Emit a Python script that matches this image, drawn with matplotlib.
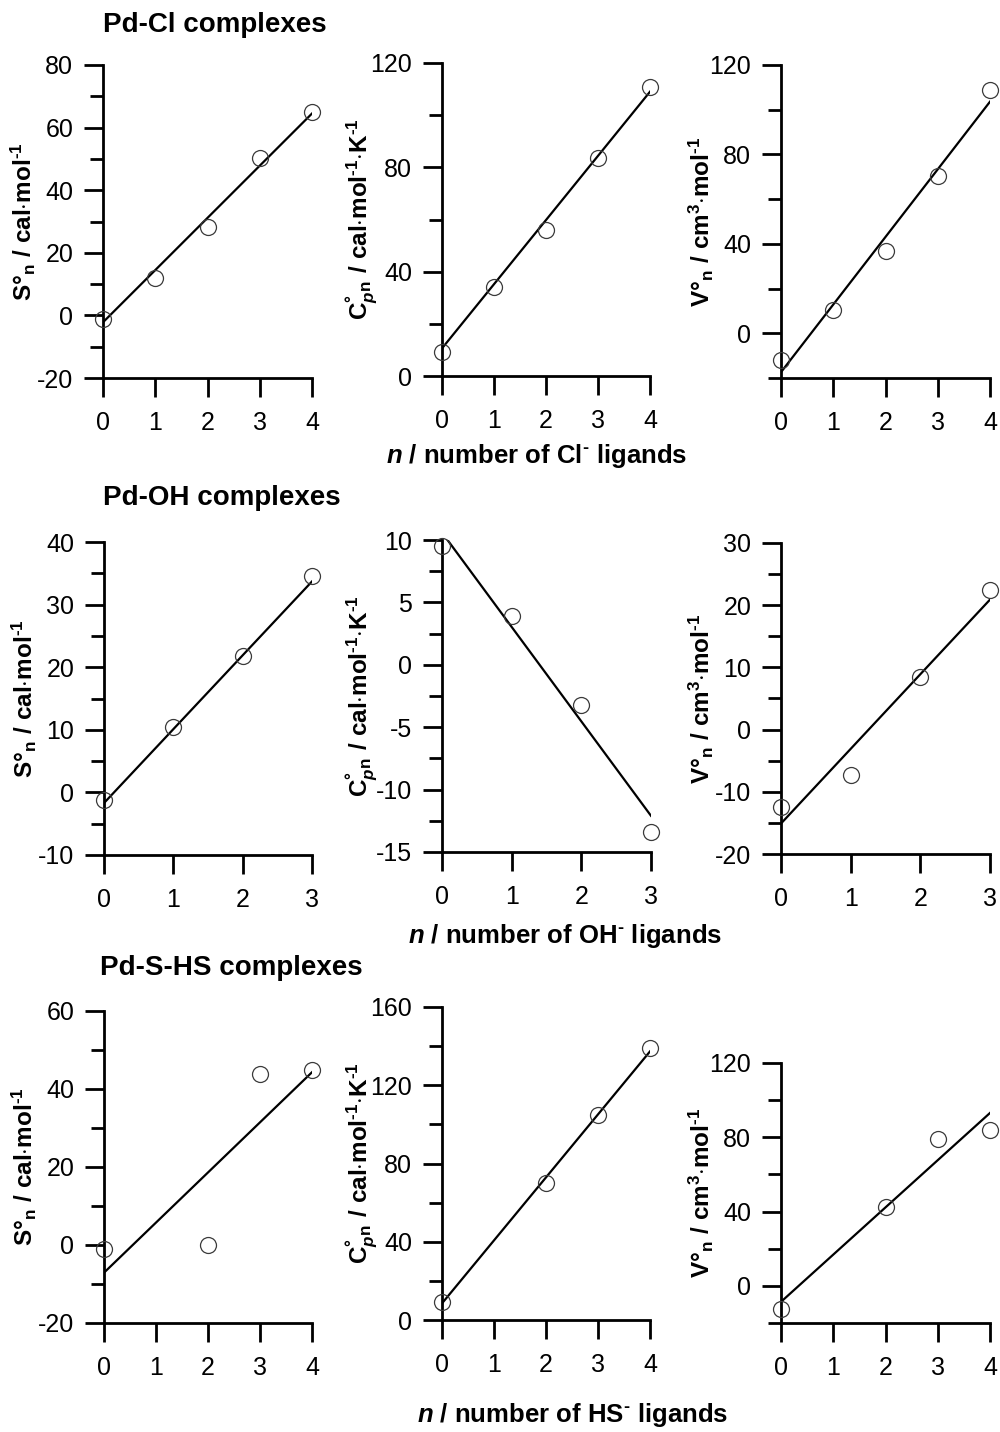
import matplotlib
matplotlib.use('Agg')
import matplotlib.pyplot as plt
from matplotlib.ticker import MultipleLocator, FormatStrFormatter

plt.rcParams['font.family'] = ['Liberation Sans', 'DejaVu Sans']
plt.rcParams['mathtext.fontset'] = 'custom'
plt.rcParams['mathtext.rm'] = 'Liberation Sans:bold'
plt.rcParams['mathtext.it'] = 'Liberation Sans:bold:italic'
plt.rcParams['mathtext.bf'] = 'Liberation Sans:bold'
plt.rcParams['mathtext.bfit'] = 'Liberation Sans:bold:italic'

# ---------------- data ----------------
n_cl = [0, 1, 2, 3, 4]
S_cl = [-1.3, 12.1, 28.2, 50.2, 64.9]
Cp_cl = [9.3, 34.0, 56.0, 83.6, 110.7]
V_cl = [-11.9, 10.4, 36.7, 70.2, 108.9]
fitx_cl = [0, 4]
S_cl_fit = [-2.2, 64.5]
Cp_cl_fit = [10.6, 109.0]
V_cl_fit = [-17.4, 103.6]

n_oh = [0, 1, 2, 3]
S_oh = [-1.2, 10.4, 21.8, 34.5]
Cp_oh = [9.5, 3.9, -3.2, -13.4]
V_oh = [-12.4, -7.3, 8.4, 22.5]
fitx_oh = [0, 3]
S_oh_fit = [-1.7, 33.7]
Cp_oh_fit = [10.6, -12.1]
V_oh_fit = [-15.1, 20.9]

n_hs = [0, 2, 3, 4]
S_hs = [-1.1, 0.0, 43.9, 44.8]
Cp_hs = [9.4, 70.0, 104.9, 139.0]
V_hs = [-12.5, 42.5, 79.3, 83.8]
fitx_hs = [0, 4]
S_hs_fit = [-7.1, 44.3]
Cp_hs_fit = [8.5, 137.3]
V_hs_fit = [-8.6, 93.1]

titles = ['Pd-Cl complexes', 'Pd-OH complexes', 'Pd-S-HS complexes']
ligands = ['Cl', 'OH', 'HS']

lab_S = r'$\mathrm{S°_{n}\ /\ cal{\cdot}mol^{\text{-1}}}$'
lab_Cp = r'$\mathrm{C^{°}_{\mathit{p}}{}_{n}\ /\ cal{\cdot}mol^{\text{-1}}{\cdot}K^{\text{-1}}}$'
lab_V = r'$\mathrm{V°_{n}\ /\ cm^{3}{\cdot}mol^{\text{-1}}}$'

# ---------------- layout ----------------
W, H = 1000, 1432
fig = plt.figure(figsize=(W / 100, H / 100), dpi=100)

rects = [
    [(103, 65, 312, 378), (442, 63, 650, 376), (781, 65, 990, 378)],
    [(104, 542, 312, 855), (442, 540, 651, 852), (781, 543, 990, 854)],
    [(104, 1011, 312, 1323), (442, 1007, 650, 1320), (781, 1063, 990, 1323)],
]
ylims = [[(-20, 80), (0, 120), (-20, 120)],
         [(-10, 40), (-15, 10), (-20, 30)],
         [(-20, 60), (0, 160), (-20, 120)]]
steps = [[(20, 10), (40, 20), (40, 20)],
         [(10, 5), (5, 2.5), (10, 5)],
         [(20, 10), (40, 20), (40, 20)]]

rows = [
    (n_cl, fitx_cl, [(S_cl, S_cl_fit), (Cp_cl, Cp_cl_fit), (V_cl, V_cl_fit)], (0, 4), [0, 1, 2, 3, 4]),
    (n_oh, fitx_oh, [(S_oh, S_oh_fit), (Cp_oh, Cp_oh_fit), (V_oh, V_oh_fit)], (0, 3), [0, 1, 2, 3]),
    (n_hs, fitx_hs, [(S_hs, S_hs_fit), (Cp_hs, Cp_hs_fit), (V_hs, V_hs_fit)], (0, 4), [0, 1, 2, 3, 4]),
]
ylabels = [lab_S, lab_Cp, lab_V]

for r, (nx, fx, series, xl, xt) in enumerate(rows):
    for c in range(3):
        l, t, rr, b = rects[r][c]
        ax = fig.add_axes([l / W, 1 - b / H, (rr - l) / W, (b - t) / H])
        pts, fit = series[c]
        ax.plot(fx, fit, color='black', lw=1.6, zorder=2)
        ax.plot(nx, pts, linestyle='none', marker='o', ms=11.5, mfc='none',
                mec='#3a3a3a', mew=0.9, clip_on=False, zorder=3)
        ax.set_xlim(*xl)
        ax.set_ylim(*ylims[r][c])
        ax.set_xticks(xt)
        ax.yaxis.set_major_locator(MultipleLocator(steps[r][c][0]))
        ax.yaxis.set_minor_locator(MultipleLocator(steps[r][c][1]))
        ax.yaxis.set_major_formatter(FormatStrFormatter('%g'))
        for s in ['top', 'right']:
            ax.spines[s].set_visible(False)
        for s in ['left', 'bottom']:
            ax.spines[s].set_linewidth(2.0)
        ax.tick_params(axis='both', which='major', direction='out', length=13.5,
                       width=2.0, labelsize=18, color='black')
        ax.tick_params(axis='y', which='minor', direction='out', length=9.5, width=2.0)
        ax.tick_params(axis='y', which='major', pad=8)
        ax.tick_params(axis='x', which='major', pad=10)
        ax.patch.set_alpha(0)
        w = rr - l
        ax.text(-80 / w, 0.5, ylabels[c], transform=ax.transAxes, rotation=90,
                ha='center', va='center', fontsize=17.5)

# titles
fig.text(103 / W, 1 - 32 / H, titles[0], fontsize=20, fontweight='bold', va='baseline', ha='left')
fig.text(103 / W, 1 - 505 / H, titles[1], fontsize=20, fontweight='bold', va='baseline', ha='left')
fig.text(100 / W, 1 - 975 / H, titles[2], fontsize=20, fontweight='bold', va='baseline', ha='left')

# x labels
xl_y = [463, 943, 1422]
xl_x = [537, 565, 573]
for i, lig in enumerate(ligands):
    fig.text(xl_x[i] / W, 1 - xl_y[i] / H,
             r'$\mathit{n}$ / number of ' + lig + r'$^{\text{-}}$ ligands',
             fontsize=18.5, fontweight='bold', ha='center', va='baseline')

fig.savefig('out.png', dpi=100)
